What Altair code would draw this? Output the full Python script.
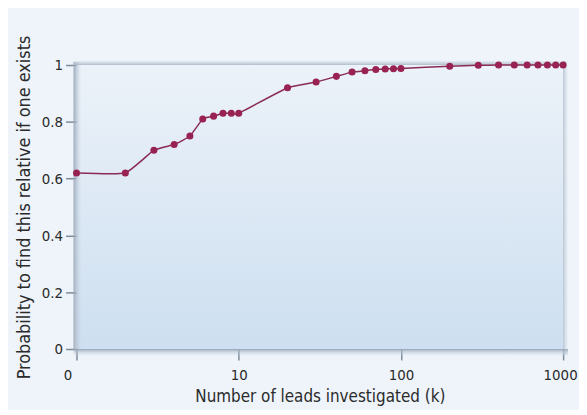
import altair as alt
import pandas as pd

# Data
leads = [1, 2, 3, 4, 5, 6, 7, 8, 9, 10,
         20, 30, 40, 50, 60, 70, 80, 90, 100,
         200, 300, 400, 500, 600, 700, 800, 900, 1000]
probability = [0.62, 0.62, 0.70, 0.72, 0.75, 0.81, 0.82, 0.83, 0.83, 0.83,
               0.92, 0.94, 0.96, 0.975, 0.98, 0.984, 0.986, 0.987, 0.988,
               0.996, 0.999, 1.0, 1.0, 1.0, 1.0, 1.0, 1.0, 1.0]
x_ticks = [1, 10, 100, 1000]
y_ticks = [0, 0.2, 0.4, 0.6, 0.8, 1]

df = pd.DataFrame({"k": leads, "p": probability})

FONT = "DejaVu Sans Condensed, Lato, sans-serif"
TXT = "#2b2b2b"
LINE = "#8a2a55"
DOT = "#982352"

W, H = 490, 286

one = alt.Data(values=[{"a": 1}])

plot_bg = alt.Chart(one).mark_rect(
    color=alt.Gradient(
        gradient="linear",
        stops=[alt.GradientStop(color="#ecf2f9", offset=0),
               alt.GradientStop(color="#cddff0", offset=1)],
        x1=0, x2=0, y1=0, y2=1,
    )
).encode(x=alt.value(0), x2=alt.value("width"), y=alt.value(0), y2=alt.value("height"))

left_shadow = alt.Chart(one).mark_rect(
    color=alt.Gradient(
        gradient="linear",
        stops=[alt.GradientStop(color="rgba(150,165,182,0.95)", offset=0),
               alt.GradientStop(color="rgba(200,212,225,0)", offset=1)],
        x1=0, x2=1, y1=0, y2=0,
    )
).encode(x=alt.value(-3), x2=alt.value(5), y=alt.value(-3), y2=alt.value("height"))

top_shadow = alt.Chart(one).mark_rect(
    color=alt.Gradient(
        gradient="linear",
        stops=[alt.GradientStop(color="rgba(200,210,222,0.3)", offset=0),
               alt.GradientStop(color="rgba(170,183,198,0.9)", offset=1)],
        x1=0, x2=0, y1=0, y2=1,
    )
).encode(x=alt.value(-3), x2=alt.value(W + 3), y=alt.value(-4), y2=alt.value(0))

right_shadow = alt.Chart(one).mark_rect(
    color=alt.Gradient(
        gradient="linear",
        stops=[alt.GradientStop(color="rgba(170,183,198,0.8)", offset=0),
               alt.GradientStop(color="rgba(210,220,230,0.1)", offset=1)],
        x1=0, x2=1, y1=0, y2=0,
    )
).encode(x=alt.value("width"), x2=alt.value(W + 5), y=alt.value(-4), y2=alt.value(H + 6))

bottom_shadow = alt.Chart(one).mark_rect(
    color=alt.Gradient(
        gradient="linear",
        stops=[alt.GradientStop(color="rgba(150,165,182,0.9)", offset=0),
               alt.GradientStop(color="rgba(215,225,235,0.1)", offset=1)],
        x1=0, x2=0, y1=0, y2=1,
    )
).encode(x=alt.value(-3), x2=alt.value(W + 5), y=alt.value("height"), y2=alt.value(H + 7))

x_enc = alt.X(
    "k:Q",
    scale=alt.Scale(type="log", domain=[1, 1000]),
    axis=alt.Axis(
        values=x_ticks,
        labelExpr="datum.value == 1 ? '0' : format(datum.value, 'd')",
        title="Number of leads investigated (k)",
        titleFontSize=17,
        grid=False,
        domain=False,
        tickSize=11,
        tickColor="#7d8a98",
        tickWidth=1.5,
        labelPadding=8,
        titlePadding=6,
        labelFlush=False,
        labelOffset={
            "condition": [
                {"test": "datum.value == 1", "value": -9},
                {"test": "datum.value == 1000", "value": -3},
            ],
            "value": 0,
        },
    ),
)
y_enc = alt.Y(
    "p:Q",
    scale=alt.Scale(domain=[0, 1]),
    axis=alt.Axis(
        values=y_ticks,
        format="~g",
        title="Probability to find this relative if one exists",
        titleFontSize=18,
        grid=True,
        gridColor="#b3c8dc",
        gridWidth=1,
        domain=False,
        tickSize=11,
        tickColor="#7d8a98",
        tickWidth=1.5,
        labelPadding=3,
        titlePadding=8,
    ),
)

line = alt.Chart(df).mark_line(
    color=LINE, strokeWidth=1.5, interpolate="cardinal", tension=0.6
).encode(x=x_enc, y=y_enc)

points = alt.Chart(df).mark_circle(color=DOT, size=50, opacity=1).encode(
    x="k:Q", y="p:Q"
)

chart = alt.layer(
    plot_bg, left_shadow, top_shadow, right_shadow, bottom_shadow, line, points
).properties(
    width=W,
    height=H,
    autosize=alt.AutoSizeParams(type="none"),
    padding={"left": 69, "top": 56, "right": 16, "bottom": 60},
    background="#eef4fa",
).configure_view(
    stroke=None
).configure_axis(
    labelFont=FONT,
    titleFont=FONT,
    labelFontSize=15,
    labelColor=TXT,
    titleColor=TXT,
    titleFontWeight="normal",
)

chart.save("out.html", embed_options={"renderer": "svg", "actions": False})
